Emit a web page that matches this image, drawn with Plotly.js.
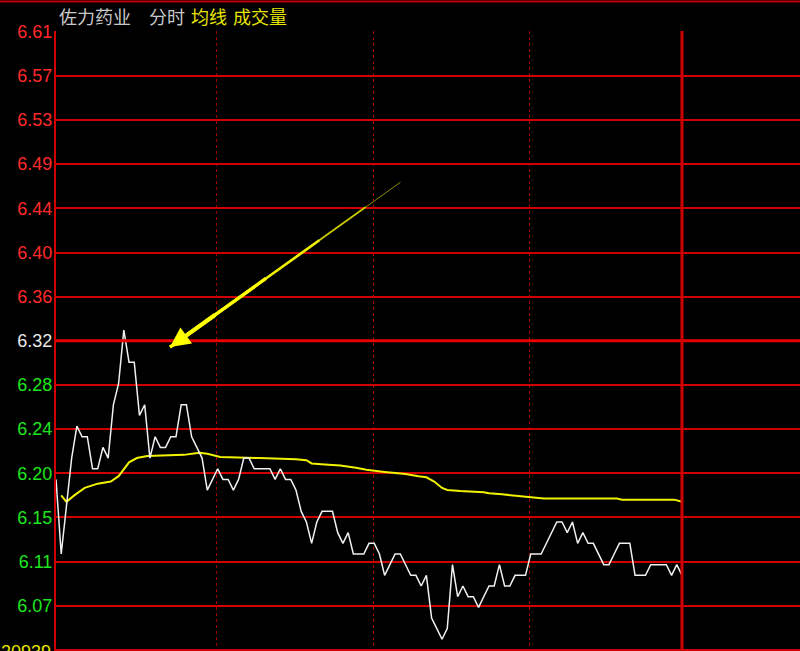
<!DOCTYPE html>
<html>
<head>
<meta charset="utf-8">
<script src="https://cdn.plot.ly/plotly-3.0.1.min.js"></script>
<style>
html,body{margin:0;padding:0;background:#000;overflow:hidden;}
#chart{width:800px;height:651px;}
</style>
</head>
<body>
<div id="chart"></div>
<script>
// ---------------- data ----------------
const stockName = '佐力药业';
const headerItems = ['分时', '均线', '成交量'];
const preClose = 6.32;
const topPrice = 6.61;
const tickLabels = ['6.61','6.57','6.53','6.49','6.44','6.40','6.36','6.32','6.28','6.24','6.20','6.15','6.11','6.07'];
const volumeLabel = '20939';

// minute index from 9:30 (0..240)
const priceMinutes = [0,2,6,8,10,12,14,16,18,20,22,24,26,28,30,32,34,36,38,40,42,44,46,48,50,52,54,56,58,
  62,64,66,68,70,72,74,76,82,84,86,88,90,92,94,96,98,100,102,106,108,110,112,114,118,
  120,122,124,126,128,130,132,134,136,138,140,142,144,146,148,150,152,154,156,158,160,162,164,166,168,170,172,174,176,180,
  182,186,192,194,196,198,200,202,204,206,210,212,214,216,220,222,226,228,234,236,238,240];
const prices = [6.19,6.12,6.21,6.24,6.23,6.23,6.20,6.20,6.22,6.21,6.26,6.28,6.33,6.30,6.30,6.25,6.26,6.21,6.23,6.22,6.22,6.23,6.23,6.26,6.26,6.23,6.22,6.21,6.18,
  6.20,6.19,6.19,6.18,6.19,6.21,6.21,6.20,6.20,6.19,6.20,6.19,6.19,6.18,6.16,6.15,6.13,6.15,6.16,6.16,6.14,6.13,6.14,6.12,6.12,
  6.13,6.13,6.12,6.10,6.11,6.12,6.12,6.11,6.10,6.10,6.09,6.10,6.06,6.05,6.04,6.05,6.11,6.08,6.09,6.08,6.08,6.07,6.08,6.09,6.09,6.11,6.09,6.09,6.10,6.10,
  6.12,6.12,6.15,6.15,6.14,6.15,6.13,6.14,6.13,6.13,6.11,6.11,6.12,6.13,6.13,6.10,6.10,6.11,6.11,6.10,6.11,6.10];

const avgMinutes = [2,4,7,11,16,21,24,28,31,35,49,52,55,58,63,78,92,96,98,103,109,115,119,126,134,139,142,145,148,150,155,164,166,171,179,187,215,217,237,240];
const avgPrices = [6.175,6.169,6.175,6.182,6.186,6.188,6.193,6.206,6.210,6.212,6.213,6.214,6.215,6.214,6.211,6.210,6.209,6.208,6.205,6.204,6.203,6.201,6.199,6.197,6.195,6.193,6.192,6.188,6.182,6.180,6.179,6.178,6.177,6.176,6.174,6.172,6.172,6.171,6.171,6.169];

// session separators (minute positions) and session end
const sessionMarks = [61.7, 121.9, 181.4];
const sessionEnd = 240;

// ---------------- geometry ----------------
const W = 800, H = 651;
const L = 56, R = 0, T = 31, B = 0;
const PW = W - L - R, PH = H - T - B;
const pxPerMin = (682 - 56) / 240;
const step = (topPrice - preClose) / 7;
const pxPerPrice = 44.16 / step;
const yTop = topPrice + (31.7 - T) / pxPerPrice;
const yBot = yTop - PH / pxPerPrice;
const xMax = PW / pxPerMin;
const bottomLevel = preClose - 7 * step;

const px2x = px => (px - L) / PW;
const px2y = py => 1 - (py - T) / PH;

// tick values / texts
const tickVals = tickLabels.map((t, i) => preClose + (7 - i) * step);
const tickTexts = tickLabels.map((t, i) => {
  const v = preClose + (7 - i) * step;
  let c = '#ff2a2a';
  if (Math.abs(v - preClose) < 1e-6) c = '#e8e8e8';
  else if (v < preClose) c = '#1ee61e';
  return '<span style="color:' + c + '">' + t + '</span>';
});

const traces = [
  {x: avgMinutes, y: avgPrices, type: 'scatter', mode: 'lines',
   line: {color: '#f2f200', width: 2}, hoverinfo: 'skip'},
  {x: priceMinutes, y: prices, type: 'scatter', mode: 'lines',
   line: {color: '#f0f0f0', width: 1.5}, hoverinfo: 'skip'}
];

// arrow geometry (head/tail in pixels)
const headPx = [170, 348], tailPx = [402, 182];
const headX = (headPx[0] - L) / pxPerMin;
const headY = preClose - (headPx[1] - 341.7) / pxPerPrice;
const dx = tailPx[0] - headPx[0], dy = tailPx[1] - headPx[1];

const titleFont = 'Noto Sans CJK SC, sans-serif';
const hdr = (text, px, color) => ({text: text, xref: 'paper', yref: 'paper', x: px2x(px), y: px2y(16),
  xanchor: 'left', yanchor: 'middle', showarrow: false, font: {family: titleFont, size: 18, color: color}});

const annotations = [
  hdr(stockName, 57, '#c8c8c8'),
  hdr(headerItems[0], 147, '#c8c8c8'),
  hdr(headerItems[1], 189, '#e6e600'),
  hdr(headerItems[2], 231, '#e6e600'),
  {text: volumeLabel, xref: 'paper', yref: 'paper', x: px2x(53), y: px2y(652), xanchor: 'right', yanchor: 'middle',
   showarrow: false, font: {family: 'Liberation Sans, Arial, sans-serif', size: 18, color: '#e6e600'}},
  // tapered arrow: thin tail, thicker head
  {text: '', x: headX, y: headY, ax: dx, ay: dy, showarrow: true, arrowhead: 0, arrowwidth: 1, arrowcolor: '#8a8a00', standoff: 0},
  {text: '', x: headX, y: headY, ax: dx * 0.85, ay: dy * 0.85, showarrow: true, arrowhead: 0, arrowwidth: 1.8, arrowcolor: '#c8c800', standoff: 0},
  {text: '', x: headX, y: headY, ax: dx * 0.65, ay: dy * 0.65, showarrow: true, arrowhead: 0, arrowwidth: 2.6, arrowcolor: '#eeee00', standoff: 0},
  {text: '', x: headX, y: headY, ax: dx * 0.42, ay: dy * 0.42, showarrow: true, arrowhead: 0, arrowwidth: 3.4, arrowcolor: '#ffff00', standoff: 0},
  {text: '', x: headX, y: headY, ax: dx * 0.2, ay: dy * 0.2, showarrow: true, arrowhead: 2, arrowsize: 0.95, arrowwidth: 4.2, arrowcolor: '#ffff00', standoff: 0}
];

const shapes = [
  {type: 'line', xref: 'paper', yref: 'y', x0: 0, x1: 1, y0: preClose, y1: preClose,
   line: {color: '#e60000', width: 3}},
  {type: 'line', xref: 'paper', yref: 'y', x0: 0, x1: 1, y0: bottomLevel, y1: bottomLevel,
   line: {color: '#d00000', width: 2}},
  {type: 'line', xref: 'x', yref: 'paper', x0: sessionEnd, x1: sessionEnd, y0: 0, y1: 1,
   line: {color: '#d00000', width: 3}},
  {type: 'line', xref: 'paper', yref: 'paper', x0: px2x(0), x1: 1, y0: px2y(1.5), y1: px2y(1.5),
   line: {color: '#c00000', width: 2}}
];

const layout = {
  width: W, height: H,
  margin: {l: L, r: R, t: T, b: B, pad: 0},
  paper_bgcolor: '#000000', plot_bgcolor: '#000000',
  showlegend: false, hovermode: false,
  font: {family: 'Liberation Sans, Arial, sans-serif', size: 18, color: '#e8e8e8'},
  xaxis: {range: [0, xMax], tickvals: sessionMarks, showticklabels: false, ticks: '',
          showgrid: true, gridcolor: '#a00000', gridwidth: 1, griddash: 'dot',
          zeroline: false, showline: false, fixedrange: true},
  yaxis: {range: [yBot, yTop], tickvals: tickVals, ticktext: tickTexts, ticks: '',
          tickfont: {family: 'Liberation Sans, Arial, sans-serif', size: 18},
          ticklabelstandoff: -2,
          showgrid: true, gridcolor: '#d00000', gridwidth: 2,
          zeroline: false, showline: true, linecolor: '#d00000', linewidth: 2, fixedrange: true},
  shapes: shapes,
  annotations: annotations
};

Plotly.newPlot('chart', traces, layout, {displayModeBar: false, staticPlot: true});
</script>
</body>
</html>
